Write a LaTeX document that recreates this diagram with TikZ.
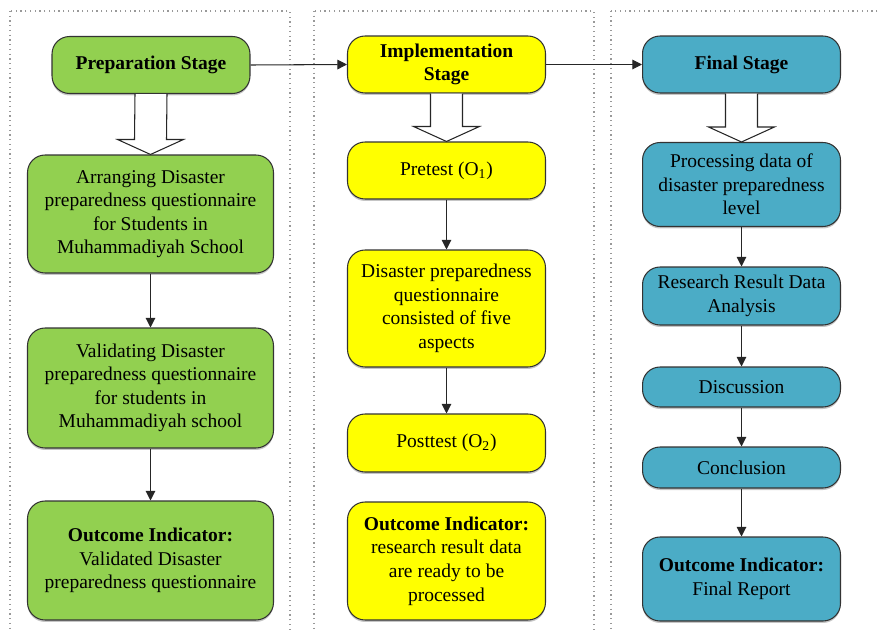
\documentclass[tikz,border=0pt]{standalone}
\usepackage{fontspec}
\setmainfont{Liberation Serif}
\newfontfamily\boxfont{Liberation Serif}
\usetikzlibrary{arrows.meta,shapes,calc,shadows}
\definecolor{prepgreen}{HTML}{92D050}
\definecolor{implyellow}{HTML}{FFFF00}
\definecolor{finalteal}{HTML}{4BACC6}
\tikzstyle{stagebox}=[draw=black!80,line width=0.6pt,rounded corners=0.35cm,align=center,inner sep=2pt,
    font=\boxfont\fontsize{11.1}{13.4}\selectfont,
    drop shadow={shadow xshift=0pt,shadow yshift=-0.04cm,fill=black!45}]
\tikzstyle{prep box}=[stagebox, fill=prepgreen]
\tikzstyle{impl box}=[stagebox, fill=implyellow]
\tikzstyle{final box}=[stagebox, fill=finalteal]
\tikzstyle{flow}=[draw=black!85,line width=0.6pt,-{Triangle[width=5.5pt,length=5.5pt]}]
\tikzstyle{frame}=[draw=black!40,dotted,line width=0.7pt]
\tikzstyle{hollow}=[draw=black!85,line width=0.6pt,fill=white]
% big open arrow from one stage into its first step
\newcommand{\bigarrow}[2]{%
    \path[hollow] ($(#1.south)+(-16,0)$) -- ($(#2.north)+(-16,-15)$) -- ($(#2.north)+(-33,-15)$)
        -- (#2.north) -- ($(#2.north)+(33,-15)$) -- ($(#2.north)+(16,-15)$) -- ($(#1.south)+(16,0)$);}

\begin{document}
\begin{tikzpicture}[x=0.02cm,y=-0.02cm]
    \useasboundingbox (0,0) rectangle (879,632);
    \clip (0,0) rectangle (879,632);
    % the three dotted stage panels
    \foreach \xa/\xb in {10/290, 314/594, 611/895}
        \draw[frame] (\xa,11) rectangle (\xb,650);

    % Preparation stage
    \node[prep box, minimum width=3.96cm, minimum height=1.14cm] (prep) at (151,65) {\textbf{Preparation Stage}};
    \node[prep box, minimum width=4.92cm, minimum height=2.36cm] (arrange) at (150.5,214)
        {Arranging Disaster\\preparedness questionnaire\\for Students in\\Muhammadiyah School};
    \node[prep box, minimum width=4.92cm, minimum height=2.4cm] (valid) at (150.5,388)
        {Validating Disaster\\preparedness questionnaire\\for students in\\Muhammadiyah school};
    \node[prep box, minimum width=4.92cm, minimum height=2.38cm] (prepout) at (150.5,560.5)
        {\textbf{Outcome Indicator:}\\Validated Disaster\\preparedness questionnaire};

    % Implementation stage
    \node[impl box, minimum width=3.96cm, minimum height=1.14cm] (impl) at (446.5,64.5) {\textbf{Implementation}\\\textbf{Stage}};
    \node[impl box, minimum width=3.96cm, minimum height=1.14cm] (pretest) at (446.5,170.5) {Pretest (O\textsubscript{1})};
    \node[impl box, minimum width=3.96cm, minimum height=2.34cm] (quest) at (446.5,308.5)
        {Disaster preparedness\\questionnaire\\consisted of five\\aspects};
    \node[impl box, minimum width=3.96cm, minimum height=1.16cm] (posttest) at (446.5,443) {Posttest (O\textsubscript{2})};
    \node[impl box, minimum width=3.96cm, minimum height=2.36cm] (implout) at (446.5,561)
        {\textbf{Outcome Indicator:}\\research result data\\are ready to be\\processed};

    % Final stage
    \node[final box, minimum width=3.96cm, minimum height=1.14cm] (final) at (741.5,64.5) {\textbf{Final Stage}};
    \node[final box, minimum width=3.96cm, minimum height=1.68cm] (process) at (741.5,184.5)
        {Processing data of\\disaster preparedness\\level};
    \node[final box, minimum width=3.96cm, minimum height=1.16cm] (result) at (741.5,296) {Research Result Data\\Analysis};
    \node[final box, minimum width=3.96cm, minimum height=0.8cm] (discuss) at (741.5,387) {Discussion};
    \node[final box, minimum width=3.96cm, minimum height=0.82cm] (conclude) at (741.5,467.5) {Conclusion};
    \node[final box, minimum width=3.96cm, minimum height=1.68cm] (finalout) at (741.5,579)
        {\textbf{Outcome Indicator:}\\Final Report};

    % Connect stages and steps
    \foreach \source/\dest in {prep/impl, impl/final}
        \path[flow] (\source.east) -- (\dest.west);
    \foreach \source/\dest in {arrange/valid, valid/prepout, pretest/quest, quest/posttest,
                               process/result, result/discuss, discuss/conclude, conclude/finalout}
        \path[flow] (\source) -- (\dest);

    \bigarrow{prep}{arrange}
    \bigarrow{impl}{pretest}
    \bigarrow{final}{process}
\end{tikzpicture}
\end{document}
